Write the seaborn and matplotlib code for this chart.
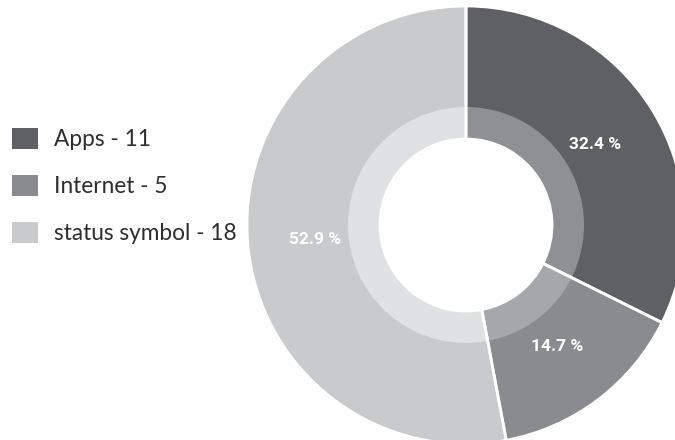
import matplotlib
matplotlib.use("Agg")
import matplotlib.pyplot as plt
import seaborn as sns
import numpy as np
from matplotlib.patches import Patch

categories = ["Apps", "Internet", "status symbol"]
values = [11, 5, 18]
colors = ["#5f6064", "#8a8b8e", "#c9cacc"]
inner_colors = ["#8f9093", "#a6a7a9", "#e0e1e2"]

sns.set_theme(style="white")
plt.rcParams['font.family'] = ['Lato', 'DejaVu Sans']

W, H = 675, 440
fig = plt.figure(figsize=(W / 100, H / 100), dpi=100)
ax = fig.add_axes([0, 0, 1, 1])

cx, cy = 466, H - 225
R = 219
R_band = 118
R_hole = 86

total = sum(values)
ax.pie(values, colors=colors, startangle=90, counterclock=False,
       center=(cx, cy), radius=R,
       wedgeprops=dict(width=R - R_hole, linewidth=0))
ax.pie(values, colors=inner_colors, startangle=90, counterclock=False,
       center=(cx, cy), radius=R_band,
       wedgeprops=dict(width=R_band - R_hole, linewidth=0))
# white separators between slices
ax.pie(values, colors=["none"] * len(values), startangle=90, counterclock=False,
       center=(cx, cy), radius=R,
       wedgeprops=dict(width=R - R_hole, edgecolor="white", linewidth=2, facecolor="none"))

cum = 0
r_lab = 152
for v in values:
    mid = (cum + v / 2) / total * 2 * np.pi
    x = cx + r_lab * np.sin(mid)
    y = cy + r_lab * np.cos(mid)
    ax.text(x, y, f"{v / total * 100:.1f} %", ha="center", va="center",
            color="white", fontsize=12.5, fontweight="bold",
            family=["Roboto", "DejaVu Sans"])
    cum += v

ax.set_xlim(0, W)
ax.set_ylim(0, H)
ax.set_aspect("equal")
ax.axis("off")

handles = [Patch(facecolor=c, edgecolor="none") for c in colors]
labels = [f"{c} - {v}" for c, v in zip(categories, values)]
leg = ax.legend(handles, labels, loc="center left",
                bbox_to_anchor=(12 / W, (H - 186) / H), bbox_transform=fig.transFigure,
                frameon=False, fontsize=16.3, handlelength=1.13, handleheight=1.05,
                labelspacing=1.1, handletextpad=0.73, borderpad=0, borderaxespad=0)
for t in leg.get_texts():
    t.set_color("#2e2e30")

fig.savefig("out.png", dpi=100)
